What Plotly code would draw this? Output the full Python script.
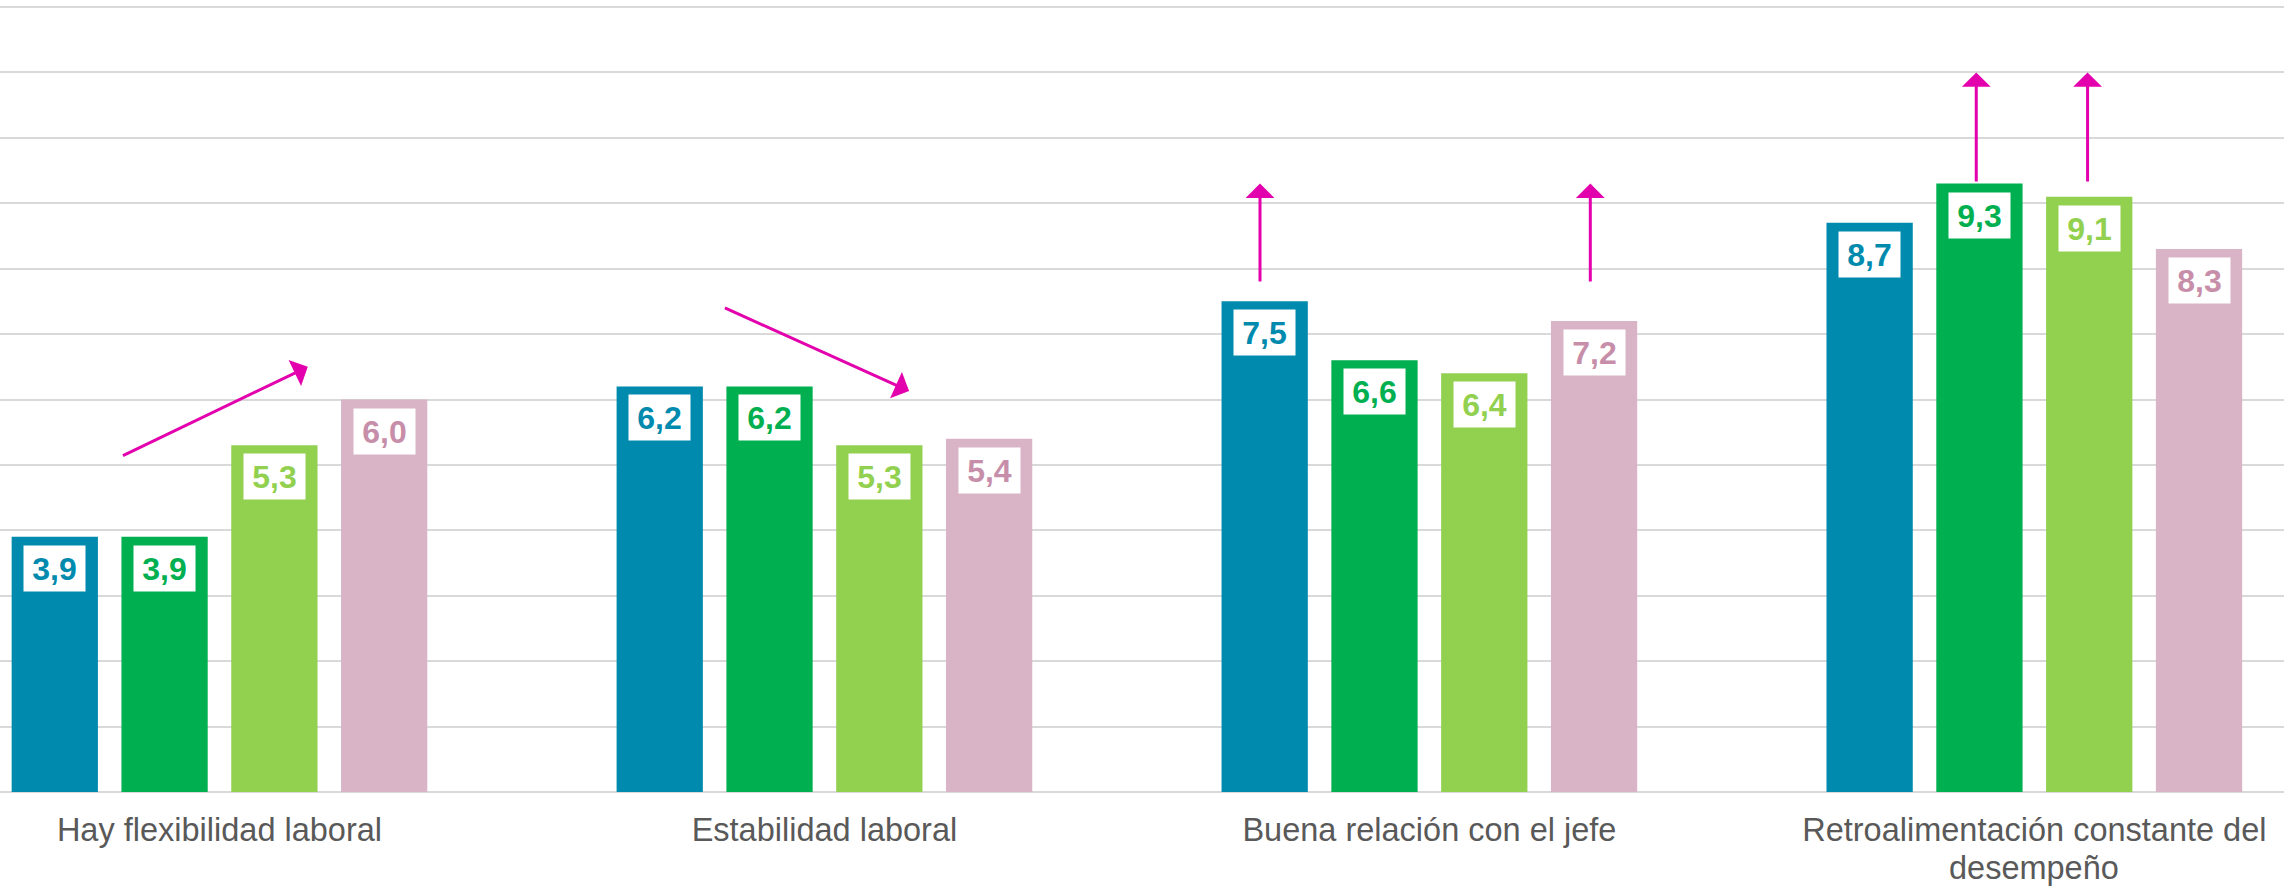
import plotly.graph_objects as go

categories = ["Hay flexibilidad laboral", "Estabilidad laboral",
              "Buena relación con el jefe", "Retroalimentación constante del"]
category_second_lines = ["", "", "", "desempeño"]
series_names = ["Serie 1", "Serie 2", "Serie 3", "Serie 4"]
series_values = [
    [3.9, 6.2, 7.5, 8.7],
    [3.9, 6.2, 6.6, 9.3],
    [5.3, 5.3, 6.4, 9.1],
    [6.0, 5.4, 7.2, 8.3],
]
bar_colors = ["#008AAE", "#00B050", "#92D050", "#D8B4C6"]
label_colors = ["#008AAE", "#00B050", "#92D050", "#C78EA9"]

# trend arrows (tail x, tail y, head x, head y) in data units
arrows = [
    (-0.162, 5.13, 0.146, 6.50),
    (0.833, 7.41, 1.140, 6.13),
    (1.720, 7.78, 1.720, 9.30),
    (2.266, 7.78, 2.266, 9.30),
    (2.904, 9.31, 2.904, 11.0),
    (3.088, 9.31, 3.088, 11.0),
]

slot = 0.1815
bar_w = 0.1426
axis_font = dict(family="Liberation Sans, Arial", size=32.5, color="#595959")

fig = go.Figure()
annotations = []
for j, (name, vals) in enumerate(zip(series_names, series_values)):
    xs = [i + (j - 1.5) * slot for i in range(len(categories))]
    fig.add_trace(go.Bar(x=xs, y=vals, width=bar_w, name=name,
                         marker=dict(color=bar_colors[j], line=dict(width=0)),
                         showlegend=False, hoverinfo="y"))
    for x, v in zip(xs, vals):
        annotations.append(dict(
            x=x, y=v, xref="x", yref="y", yanchor="top", xanchor="center",
            yshift=-8, text=f"<b>{v:.1f}</b>".replace(".", ","),
            showarrow=False, bgcolor="white", width=61, height=45,
            borderpad=0, valign="middle",
            font=dict(family="Liberation Sans, Arial", size=32, color=label_colors[j])))

for i, second in enumerate(category_second_lines):
    if second:
        annotations.append(dict(
            x=i, y=0, xref="x", yref="paper", xanchor="center", yanchor="middle",
            yshift=-76, text=second, showarrow=False, font=axis_font))

for (tx, ty, hx, hy) in arrows:
    annotations.append(dict(
        x=hx, y=hy, ax=tx, ay=ty, xref="x", yref="y", axref="x", ayref="y",
        text="", showarrow=True, arrowhead=1, arrowsize=1.6, arrowwidth=3,
        arrowcolor="#E300AD", standoff=0, startstandoff=0))

fig.update_layout(
    width=2284, height=887,
    margin=dict(l=0, r=0, t=0, b=95),
    paper_bgcolor="white", plot_bgcolor="white",
    annotations=annotations,
    xaxis=dict(range=[-0.3628, 3.4127], tickvals=list(range(len(categories))),
               ticktext=categories, showgrid=False, zeroline=False, showline=False,
               ticks="", tickfont=axis_font,
               ticklabelstandoff=15, automargin=False),
    yaxis=dict(range=[0, 12.107], dtick=1, showticklabels=False, showgrid=True,
               gridcolor="#D9D9D9", gridwidth=2, zeroline=True, zerolinecolor="#D9D9D9",
               zerolinewidth=2, showline=False, ticks="", automargin=False),
)

fig.write_html("out.html", config={"displayModeBar": False},
               post_script="document.body.style.margin='0';document.body.style.overflow='hidden';")
